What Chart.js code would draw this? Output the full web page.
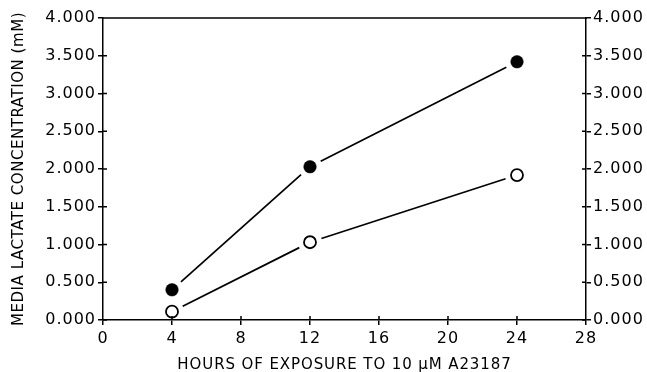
<!DOCTYPE html>
<html>
<head>
<meta charset="utf-8">
<script src="https://cdn.jsdelivr.net/npm/chart.js@4"></script>
<style>
  html, body { margin: 0; padding: 0; background: #fff; }
  #wrap { width: 647px; height: 372px; }
</style>
</head>
<body>
<div id="wrap"><canvas id="lactateChart" width="647" height="372"></canvas></div>
<script>
// hours of exposure to A23187
const hours = [4, 12, 24];
// media lactate (mM), filled and open circles
const lactateFilled = [0.40, 2.03, 3.42];
const lactateOpen = [0.11, 1.03, 1.92];
const xTicks = [0, 4, 8, 12, 16, 20, 24, 28];
const yTicks = [0, 0.5, 1, 1.5, 2, 2.5, 3, 3.5, 4];

const ink = '#000';
const tickFont = { family: 'DejaVu Sans', size: 16 };
const titleFont = { family: 'DejaVu Sans', size: 15 };

// wide lettering: add tracking to a scale's labels and title
function tracked(fn, px) {
  return function (...args) {
    const ctx = this.ctx;
    const prev = ctx.letterSpacing;
    ctx.letterSpacing = px + 'px';
    fn.apply(this, args);
    ctx.letterSpacing = prev;
  };
}
function spaceScale(s, labelPx, titlePx) {
  if (s._tracked) return;
  s.drawLabels = tracked(s.drawLabels, labelPx);
  s.drawTitle = tracked(s.drawTitle, titlePx);
  s._tracked = true;
}

// connecting lines stop short of each marker, so draw them by hand
const gapLines = {
  id: 'gapLines',
  beforeDatasetsDraw(chart) {
    const ctx = chart.ctx;
    const gap = 12;
    ctx.save();
    ctx.strokeStyle = ink;
    ctx.lineWidth = 1.7;
    chart.data.datasets.forEach((ds, i) => {
      const pts = chart.getDatasetMeta(i).data;
      for (let k = 0; k < pts.length - 1; k++) {
        const a = pts[k], b = pts[k + 1];
        const dx = b.x - a.x, dy = b.y - a.y;
        const len = Math.hypot(dx, dy);
        const ux = dx / len, uy = dy / len;
        ctx.beginPath();
        ctx.moveTo(a.x + ux * gap, a.y + uy * gap);
        ctx.lineTo(b.x - ux * gap, b.y - uy * gap);
        ctx.stroke();
      }
    });
    ctx.restore();
  }
};

// top frame line and the inner half of each tick mark
const frame = {
  id: 'frame',
  afterDraw(chart) {
    const { ctx, chartArea: ca, scales } = chart;
    const len = 4;
    ctx.save();
    ctx.strokeStyle = ink;
    ctx.lineWidth = 1.5;
    ctx.beginPath();
    ctx.moveTo(ca.left, ca.top);
    ctx.lineTo(ca.right + 1, ca.top);
    scales.x.ticks.forEach(t => {
      const px = scales.x.getPixelForValue(t.value);
      if (px <= ca.left + 1 || px >= ca.right - 1) return;
      ctx.moveTo(px, ca.bottom);
      ctx.lineTo(px, ca.bottom - len);
    });
    scales.y.ticks.forEach(t => {
      const py = scales.y.getPixelForValue(t.value);
      ctx.moveTo(ca.left, py);
      ctx.lineTo(ca.left + len, py);
    });
    scales.y2.ticks.forEach(t => {
      const py = scales.y2.getPixelForValue(t.value);
      ctx.moveTo(ca.right, py);
      ctx.lineTo(ca.right - len, py);
    });
    ctx.stroke();
    ctx.restore();
  }
};

const yAxisCommon = {
  type: 'linear',
  min: 0,
  max: 4,
  afterBuildTicks: s => { s.ticks = yTicks.map(v => ({ value: v })); },
  grid: { display: true, drawOnChartArea: false, drawTicks: true, tickLength: 5, color: ink, lineWidth: 1.5 },
  border: { display: true, color: ink, width: 1.5 },
};

new Chart(document.getElementById('lactateChart'), {
  type: 'scatter',
  data: {
    datasets: [
      {
        label: 'filled',
        data: hours.map((h, i) => ({ x: h, y: lactateFilled[i] })),
        showLine: false,
        pointRadius: 6.3,
        pointBackgroundColor: ink,
        pointBorderColor: ink,
        pointBorderWidth: 0.5,
      },
      {
        label: 'open',
        data: hours.map((h, i) => ({ x: h, y: lactateOpen[i] })),
        showLine: false,
        pointRadius: 6,
        pointBackgroundColor: '#fff',
        pointBorderColor: ink,
        pointBorderWidth: 1.8,
      }
    ]
  },
  options: {
    responsive: false,
    animation: false,
    layout: { padding: { top: 18, left: 0, right: 0, bottom: 0 } },
    plugins: { legend: { display: false }, tooltip: { enabled: false } },
    scales: {
      x: {
        type: 'linear',
        position: 'bottom',
        min: 0,
        max: 28,
        afterBuildTicks: s => { s.ticks = xTicks.map(v => ({ value: v })); },
        afterFit: s => { s.height = 52; spaceScale(s, 1, 0.9); },
        grid: { display: true, drawOnChartArea: false, drawTicks: true, tickLength: 5, color: ink, lineWidth: 1.5 },
        border: { display: true, color: ink, width: 1.5 },
        ticks: { color: ink, font: tickFont, padding: 4, maxRotation: 0 },
        title: {
          display: true,
          text: 'HOURS OF EXPOSURE TO 10 \u03bcM A23187',
          color: ink,
          font: titleFont,
          padding: { top: 0, bottom: -2 }
        }
      },
      y: {
        ...yAxisCommon,
        position: 'left',
        afterFit: s => { s.width = 103; spaceScale(s, 1, 0.55); },
        ticks: { color: ink, font: tickFont, padding: 2, callback: v => v.toFixed(3) },
        title: {
          display: true,
          text: 'MEDIA LACTATE CONCENTRATION (mM)',
          color: ink,
          font: titleFont,
          padding: { top: 10, bottom: 0 }
        }
      },
      y2: {
        ...yAxisCommon,
        position: 'right',
        afterFit: s => { s.width = 61; spaceScale(s, 1, 0); },
        ticks: { color: ink, font: tickFont, padding: 2, callback: v => v.toFixed(3) }
      }
    }
  },
  plugins: [gapLines, frame]
});
</script>
</body>
</html>
